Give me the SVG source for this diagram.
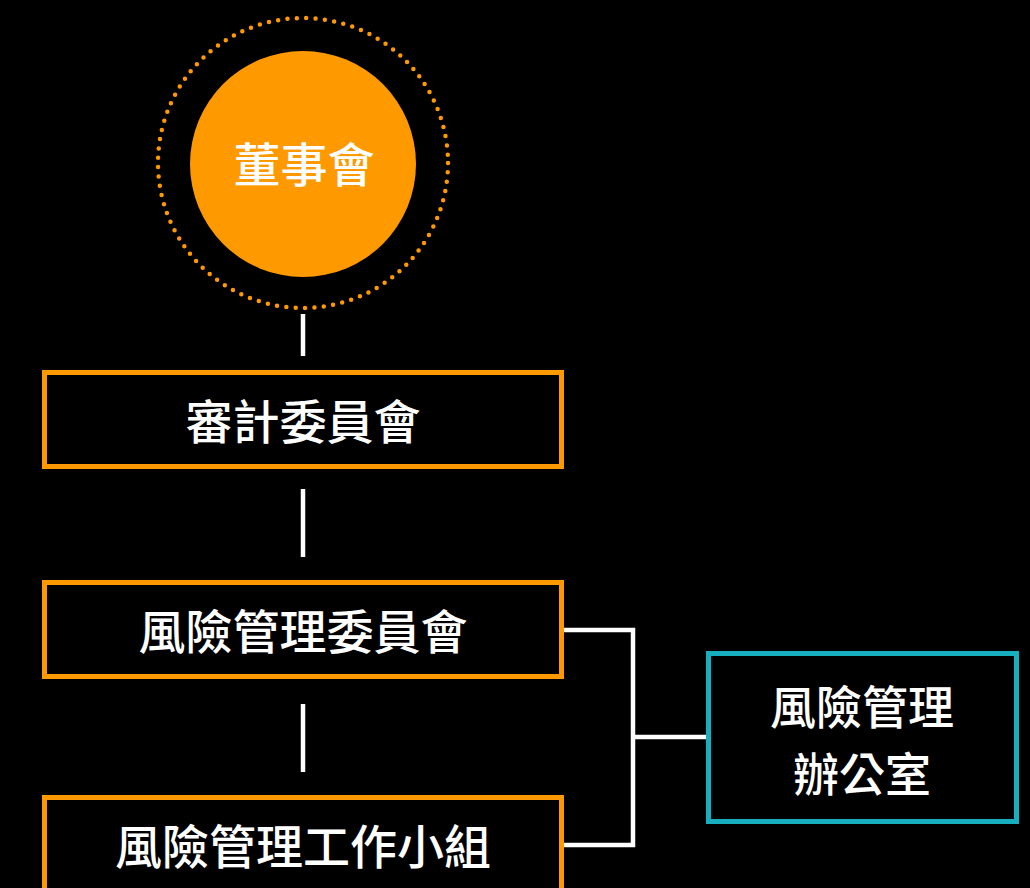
<svg xmlns="http://www.w3.org/2000/svg" width="1030" height="888" viewBox="0 0 1030 888">
<style>
.t{font-family:"Noto Sans CJK TC","Noto Sans CJK SC",sans-serif;font-weight:500;font-size:47px;fill:#fff;text-anchor:middle;dominant-baseline:central}
.t2{font-size:46px}
.ob{fill:#000;stroke:#FF9900;stroke-width:5}
.tb{fill:#000;stroke:#17AFBF;stroke-width:5}
.c{fill:none;stroke:#fff;stroke-width:4.5}
</style>
<rect width="1030" height="888" fill="#000"/>
<g id="connectors">
<line class="c" x1="303" y1="314" x2="303" y2="356"/>
<line class="c" x1="303" y1="489" x2="303" y2="557"/>
<line class="c" x1="303" y1="704" x2="303" y2="772"/>
<polyline class="c" points="563,630 633,630 633,845 563,845"/>
<line class="c" x1="633" y1="737" x2="708" y2="737"/>
</g>
<g id="board">
<circle cx="303" cy="163" r="145" fill="none" stroke="#FF9900" stroke-width="4.5" stroke-linecap="round" stroke-dasharray="0 9.4"/>
<circle cx="303" cy="164" r="113" fill="#FF9900"/>
<text class="t" x="304" y="161">董事會</text>
</g>
<g id="audit">
<rect class="ob" x="44.5" y="372.5" width="517" height="94"/>
<text class="t" x="303" y="418">審計委員會</text>
</g>
<g id="riskcommittee">
<rect class="ob" x="44.5" y="582.5" width="517" height="94"/>
<text class="t" x="303" y="628">風險管理委員會</text>
</g>
<g id="riskgroup">
<rect class="ob" x="44.5" y="797.5" width="517" height="94"/>
<text class="t" x="303" y="843">風險管理工作小組</text>
</g>
<g id="riskoffice">
<rect class="tb" x="708.5" y="653.5" width="308" height="168"/>
<text class="t t2" x="862" y="704">風險管理</text>
<text class="t t2" x="862" y="771">辦公室</text>
</g>
</svg>
